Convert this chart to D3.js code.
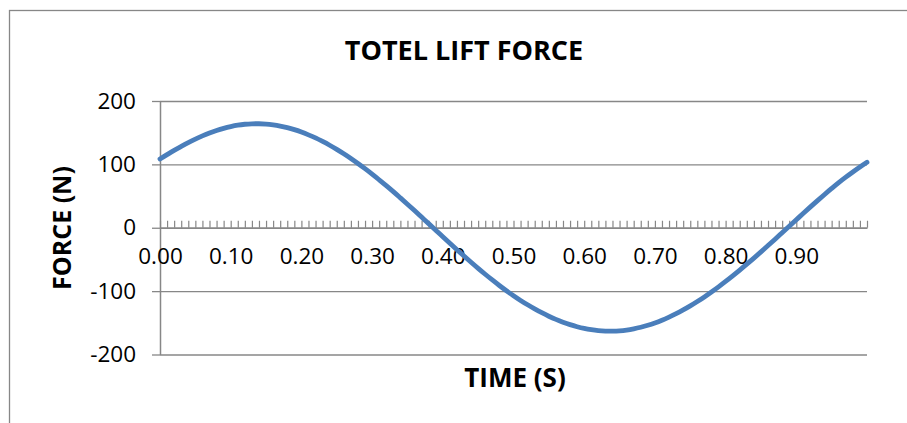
<!DOCTYPE html>
<html>
<head>
<meta charset="utf-8">
<script src="https://cdn.jsdelivr.net/npm/d3@7"></script>
<style>
  html, body { margin: 0; padding: 0; background: #fff; }
  svg { display: block; }
  text { font-family: "Open Sans", "Liberation Sans", sans-serif; fill: #000; }
</style>
</head>
<body>
<svg id="chart" width="907" height="423"></svg>
<script>
// Time samples (s)
const times = [
  0.00, 0.01, 0.02, 0.03, 0.04, 0.05, 0.06, 0.07, 0.08, 0.09,
  0.10, 0.11, 0.12, 0.13, 0.14, 0.15, 0.16, 0.17, 0.18, 0.19,
  0.20, 0.21, 0.22, 0.23, 0.24, 0.25, 0.26, 0.27, 0.28, 0.29,
  0.30, 0.31, 0.32, 0.33, 0.34, 0.35, 0.36, 0.37, 0.38, 0.39,
  0.40, 0.41, 0.42, 0.43, 0.44, 0.45, 0.46, 0.47, 0.48, 0.49,
  0.50, 0.51, 0.52, 0.53, 0.54, 0.55, 0.56, 0.57, 0.58, 0.59,
  0.60, 0.61, 0.62, 0.63, 0.64, 0.65, 0.66, 0.67, 0.68, 0.69,
  0.70, 0.71, 0.72, 0.73, 0.74, 0.75, 0.76, 0.77, 0.78, 0.79,
  0.80, 0.81, 0.82, 0.83, 0.84, 0.85, 0.86, 0.87, 0.88, 0.89,
  0.90, 0.91, 0.92, 0.93, 0.94, 0.95, 0.96, 0.97, 0.98, 0.99,
  1.00
];

// Total lift force (N) at each time sample
const force = [
  108.5, 115.4, 122.1, 128.3, 134.3, 139.9, 144.9, 149.5, 153.5, 156.9,
  159.7, 161.9, 163.3, 164.0, 164.1, 163.6, 162.3, 160.4, 157.9, 154.8,
  151.0, 146.6, 141.7, 136.2, 130.2, 123.7, 116.7, 109.3, 101.4, 93.2,
  84.6, 75.6, 66.4, 56.9, 47.1, 37.2, 27.1, 16.8, 6.5, -3.9,
  -14.2, -24.5, -34.7, -44.7, -54.5, -64.1, -73.4, -82.4, -91.1, -99.4,
  -107.3, -114.7, -121.6, -128.1, -134.1, -139.6, -144.6, -149.0, -152.9, -156.2,
  -158.9, -160.9, -162.3, -163.0, -163.1, -162.6, -161.4, -159.5, -157.0, -153.9,
  -150.2, -145.9, -141.0, -135.6, -129.7, -123.3, -116.4, -109.1, -101.3, -93.2,
  -84.7, -75.9, -66.8, -57.5, -47.9, -38.1, -28.1, -18.0, -7.8, 2.4,
  12.6, 22.8, 32.9, 42.8, 52.5, 62.0, 71.2, 79.8, 88.0, 95.8,
  103.2
];

// Axis labels
const xTickLabels = ["0.00", "0.10", "0.20", "0.30", "0.40", "0.50", "0.60", "0.70", "0.80", "0.90"];
const yTicks = [-200, -100, 0, 100, 200];

const chartTitle = "TOTEL LIFT FORCE";
const xTitle = "TIME (S)";
const yTitle = "FORCE (N)";

const svg = d3.select("#chart");
const plot = { left: 160, right: 867, top: 101, bottom: 354.5 };
const gridColor = "#878787";

// Chart area frame
svg.append("rect")
  .attr("x", 9.5).attr("y", 10.5)
  .attr("width", 1000).attr("height", 1000)
  .attr("fill", "none")
  .attr("stroke", gridColor)
  .attr("stroke-width", 1.3);

const x = d3.scalePoint()
  .domain(times.map(t => t.toFixed(2)))
  .range([plot.left, plot.right]);

const y = d3.scaleLinear()
  .domain([-200, 200])
  .range([plot.bottom, plot.top]);

// Horizontal gridlines
svg.append("g")
  .attr("transform", `translate(${plot.left},0)`)
  .call(d3.axisLeft(y).tickValues(yTicks).tickSize(-(plot.right - plot.left)).tickFormat(""))
  .call(g => g.select(".domain").remove())
  .call(g => g.selectAll("line").attr("stroke", gridColor).attr("stroke-width", 1.3));

// Value axis
const yAxis = svg.append("g")
  .attr("transform", `translate(${plot.left},0)`)
  .call(d3.axisLeft(y).tickValues(yTicks).tickSizeInner(8).tickSizeOuter(0).tickPadding(16).tickFormat(d => String(d)));
yAxis.select(".domain").attr("stroke", gridColor).attr("stroke-width", 1.5);
yAxis.selectAll("line").attr("stroke", gridColor).attr("stroke-width", 1.3);
yAxis.selectAll("text")
  .style("font-family", "'Open Sans', sans-serif")
  .style("font-size", "22.5px")
  .attr("fill", "#000");

// Category axis at zero with minor ticks pointing up
const xAxis = svg.append("g")
  .attr("transform", `translate(0,${y(0)})`)
  .call(d3.axisBottom(x).tickSizeInner(-7).tickSizeOuter(0).tickFormat(""));
xAxis.select(".domain").attr("stroke", gridColor).attr("stroke-width", 1.5);
xAxis.selectAll("line").attr("stroke", gridColor).attr("stroke-width", 1.2);

// Category labels every tenth sample
const xLabels = svg.append("g")
  .attr("transform", `translate(0,${y(0)})`)
  .call(d3.axisBottom(x).tickValues(xTickLabels).tickSize(0).tickPadding(20));
xLabels.select(".domain").remove();
xLabels.selectAll("text")
  .style("font-family", "'Open Sans', sans-serif")
  .style("font-size", "22.5px")
  .attr("fill", "#000");

// Force curve
const line = d3.line()
  .x((d, i) => x(times[i].toFixed(2)))
  .y(d => y(d))
  .curve(d3.curveCatmullRom);

svg.append("path")
  .datum(force)
  .attr("d", line)
  .attr("fill", "none")
  .attr("stroke", "#4a7ebb")
  .attr("stroke-width", 4.8)
  .attr("stroke-linecap", "round")
  .attr("stroke-linejoin", "round");

// Titles
svg.append("text")
  .attr("x", 464).attr("y", 60)
  .attr("text-anchor", "middle")
  .style("font-size", "27px").style("font-weight", "700")
  .text(chartTitle);

svg.append("text")
  .attr("x", 515).attr("y", 387)
  .attr("text-anchor", "middle")
  .style("font-size", "26px").style("font-weight", "700")
  .text(xTitle);

svg.append("text")
  .attr("transform", `translate(71,228) rotate(-90)`)
  .attr("text-anchor", "middle")
  .style("font-size", "25px").style("font-weight", "700")
  .text(yTitle);
</script>
</body>
</html>
